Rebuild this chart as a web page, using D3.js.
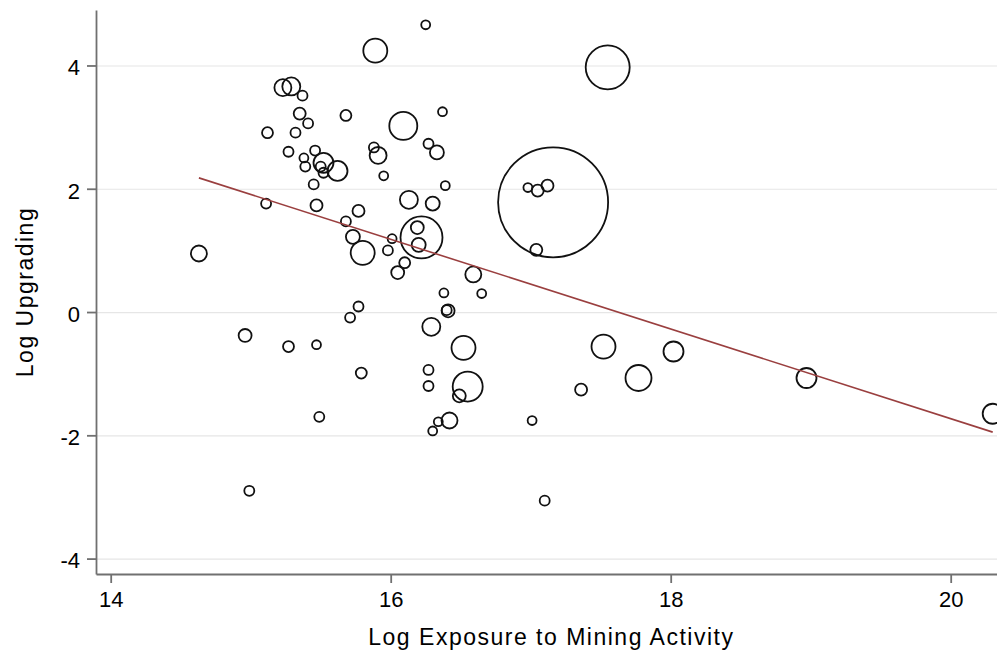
<!DOCTYPE html>
<html>
<head>
<meta charset="utf-8">
<script src="https://cdn.jsdelivr.net/npm/d3@7"></script>
<style>
  body { margin: 0; background: #fff; }
  text { font-family: "Liberation Sans", Arial, Helvetica, sans-serif; }
</style>
</head>
<body>
<div id="vis"></div>
<script>

const logExposure = [
    14.63, 15.12, 15.11, 15.23, 15.29, 15.37, 15.35, 15.41, 15.32, 15.27,
    15.46, 15.38, 15.39, 15.52, 15.50, 15.52, 15.62, 15.45, 15.47, 15.68,
    15.89, 16.25, 17.55, 16.09, 16.37, 15.88, 15.91, 16.27, 16.33, 15.95,
    16.39, 16.13, 16.30, 15.77, 15.68, 15.73, 15.80, 16.22, 16.19, 16.20,
    16.01, 15.98, 16.10, 16.05, 16.59, 16.38, 16.65, 15.77, 15.71, 16.41,
    16.40, 16.29, 17.16, 16.98, 17.05, 17.12, 17.04, 14.96, 15.27, 15.47,
    15.49, 14.99, 15.79, 16.52, 16.27, 16.27, 16.55, 16.49, 16.42, 16.34,
    16.30, 17.01, 17.10, 17.36, 17.52, 17.77, 18.02, 18.97, 20.30
]
const logUpgrading = [
    0.95, 2.91, 1.76, 3.64, 3.66, 3.51, 3.22, 3.06, 2.91, 2.60,
    2.62, 2.50, 2.36, 2.42, 2.36, 2.26, 2.29, 2.07, 1.73, 3.19,
    4.24, 4.66, 3.97, 3.02, 3.25, 2.67, 2.54, 2.73, 2.59, 2.21,
    2.05, 1.82, 1.76, 1.64, 1.47, 1.22, 0.96, 1.21, 1.37, 1.09,
    1.19, 1.00, 0.80, 0.64, 0.61, 0.31, 0.30, 0.09, -0.09, 0.02,
    0.03, -0.24, 1.78, 2.02, 1.97, 2.05, 1.01, -0.38, -0.56, -0.53,
    -1.70, -2.90, -0.99, -0.58, -0.94, -1.20, -1.21, -1.36, -1.76, -1.78,
    -1.93, -1.76, -3.06, -1.26, -0.56, -1.07, -0.64, -1.07, -1.65
]
// analytic weights (marker area)
const weight = [
    64, 30, 25, 72, 81, 25, 36, 25, 25, 25,
    25, 20, 25, 100, 25, 25, 100, 25, 36, 30,
    144, 20, 484, 196, 20, 25, 72, 25, 49, 20,
    20, 81, 49, 36, 25, 49, 144, 441, 42, 49,
    20, 25, 30, 42, 64, 20, 20, 25, 25, 42,
    25, 81, 3025, 20, 36, 36, 36, 42, 30, 20,
    25, 25, 30, 144, 25, 25, 225, 42, 64, 20,
    20, 20, 25, 36, 144, 169, 100, 100, 100
]

const xTicks = [14, 16, 18, 20]
const yTicks = [-4, -2, 0, 2, 4]

// weighted linear fit
const fitSlope = -0.7275
const fitIntercept = 12.82

const W = 997, H = 652
const margin = {top: 10, right: 0, bottom: 78, left: 96}

function makeChart() {

    const data = logExposure.map((x, i) => ({x: x, y: logUpgrading[i], w: weight[i]}))

    const svg = d3.select('#vis')
        .append('svg')
        .attr('width', W)
        .attr('height', H)

    let xScale = d3.scaleLinear()
        .domain([13.895, 20.4])
        .range([margin.left, 1006.7])

    let yScale = d3.scaleLinear()
        .domain([-4.25, 4.9])
        .range([H - margin.bottom, margin.top])

    let rScale = d3.scaleSqrt()
        .domain([0, d3.max(weight)])
        .range([0, 55])

    // grid lines
    svg.selectAll('.grid')
        .data(yTicks)
        .enter()
        .append('line')
        .attr('class', 'grid')
        .attr('x1', margin.left)
        .attr('x2', W)
        .attr('y1', d => yScale(d) + 0.5)
        .attr('y2', d => yScale(d) + 0.5)
        .attr('stroke', '#e6e6e6')
        .attr('stroke-width', 1.2)

    const fmt = d => String(d)  // plain hyphen minus, no decimals

    let xAxis = svg.append('g')
        .attr('transform', `translate(0,${H - margin.bottom})`)
        .call(d3.axisBottom(xScale).tickValues(xTicks).tickFormat(fmt).tickSize(9).tickSizeOuter(0).tickPadding(8))

    let yAxis = svg.append('g')
        .attr('transform', `translate(${margin.left},0)`)
        .call(d3.axisLeft(yScale).tickValues(yTicks).tickFormat(fmt).tickSize(9).tickSizeOuter(0).tickPadding(7))

    svg.selectAll('.domain, .tick line')
        .attr('stroke', '#707070')
        .attr('stroke-width', 1.8)

    svg.selectAll('.tick text')
        .attr('fill', '#000')
        .style('font-size', '22px')

    yAxis.selectAll('.tick text').attr('dy', '0.42em')

    // markers
    svg.selectAll('.pt')
        .data(data)
        .enter()
        .append('circle')
        .attr('class', 'pt')
        .attr('cx', d => xScale(d.x))
        .attr('cy', d => yScale(d.y))
        .attr('r', d => rScale(d.w))
        .attr('fill', 'none')
        .attr('stroke', '#111')
        .attr('stroke-width', 1.8)

    // fitted line over the data range
    const xr = d3.extent(logExposure)
    const line = d3.line()
        .x(d => xScale(d))
        .y(d => yScale(fitIntercept + fitSlope * d))

    svg.append('path')
        .datum(xr)
        .attr('d', line)
        .attr('fill', 'none')
        .attr('stroke', '#9a3f3f')
        .attr('stroke-width', 1.6)

    svg.append('text')
        .attr('x', (margin.left + 1006.7) / 2)
        .attr('y', 645)
        .attr('text-anchor', 'middle')
        .style('font-size', '23px')
        .style('letter-spacing', '1.5px')
        .text('Log Exposure to Mining Activity')

    svg.append('text')
        .attr('transform', `translate(33,${(H - margin.bottom + margin.top) / 2}) rotate(-90)`)
        .attr('text-anchor', 'middle')
        .style('font-size', '23px')
        .style('letter-spacing', '1.5px')
        .text('Log Upgrading')
}

makeChart()
</script>
</body>
</html>
